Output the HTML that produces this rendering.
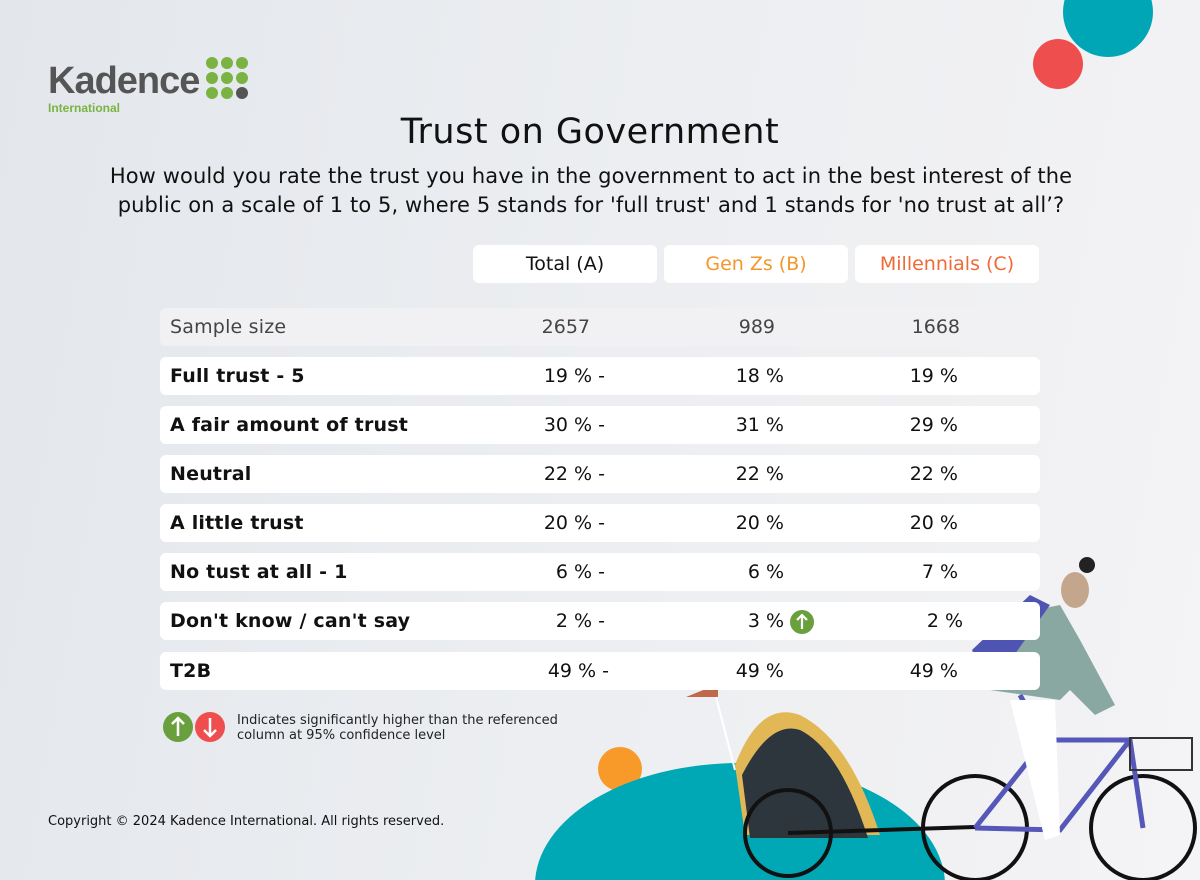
<!DOCTYPE html>
<html><head><meta charset="utf-8"><style>
*{margin:0;padding:0;box-sizing:border-box}
html,body{width:1200px;height:880px;overflow:hidden}
body{background:linear-gradient(100deg,#e3e7ec 0%,#eceef1 50%,#f4f3f5 100%);font-family:"DejaVu Sans","Liberation Sans",sans-serif;position:relative;color:#111}
.abs{position:absolute}
.h{top:245px;height:38px;width:184px;background:#fff;border-radius:6px;text-align:center;font-size:19px;line-height:38px}
.row{left:160px;width:880px;height:38px;background:#fff;border-radius:6px}
.lab{position:absolute;left:10px;top:0;line-height:38px;font-size:19px;font-weight:bold;letter-spacing:0.2px}
.v{position:absolute;top:0;line-height:38px;font-size:19px;white-space:nowrap}
</style></head><body>
<svg class="abs" style="left:0;top:0" width="1200" height="880">
<circle cx="1108" cy="12" r="45" fill="#00a6b5"/>
<circle cx="1058" cy="64" r="25" fill="#ef4e4e"/>
<circle cx="620" cy="769" r="22" fill="#f79a2a"/>
<ellipse cx="740" cy="885" rx="205" ry="122" fill="#00a8b6"/>
<g fill="#7ab342"><circle cx="212" cy="63" r="6"/><circle cx="227" cy="63" r="6"/><circle cx="242" cy="63" r="6"/><circle cx="212" cy="78" r="6"/><circle cx="227" cy="78" r="6"/><circle cx="242" cy="78" r="6"/><circle cx="212" cy="93" r="6"/><circle cx="227" cy="93" r="6"/></g><circle cx="242" cy="93" r="6" fill="#555"/>
<polygon points="686,697 718,684 718,697" fill="#c0694a"/>
<line x1="716" y1="697" x2="735" y2="770" stroke="#fff" stroke-width="2"/>
<path d="M735,765 Q760,700 800,715 Q850,740 880,835 L745,835 Z" fill="#e2b857"/>
<path d="M742,775 Q770,720 800,730 Q840,750 868,838 L750,838 Z" fill="#2d363d"/>
<circle cx="788" cy="833" r="43" fill="none" stroke="#111" stroke-width="4"/>
<line x1="788" y1="833" x2="975" y2="827" stroke="#111" stroke-width="4"/>
<g stroke="#111" stroke-width="4" fill="none"><circle cx="975" cy="828" r="52"/><circle cx="1143" cy="828" r="52"/></g>
<g stroke="#5558b8" stroke-width="5" fill="none"><path d="M975,828 L1045,740 L1130,740 L1143,828"/><path d="M1045,740 L1020,695"/><path d="M975,828 L1060,830 L1130,740"/></g>
<rect x="1130" y="738" width="62" height="32" fill="none" stroke="#333" stroke-width="2"/>
<polygon points="990,690 1010,615 1060,605 1080,640 1115,705 1095,715 1070,690 1060,700" fill="#8aa8a2"/>
<polygon points="1000,700 1055,700 1060,835 1045,840 1025,760 1010,700" fill="#fff"/>
<ellipse cx="1075" cy="590" rx="14" ry="18" fill="#c4a68d"/>
<circle cx="1087" cy="565" r="8" fill="#222"/>
<polygon points="972,650 1030,595 1050,605 1002,672 980,668" fill="#4e54b1"/>
</svg>
<div class="abs" style="left:48px;top:60px;font-family:'Liberation Sans',sans-serif;font-size:38px;color:#555;font-weight:bold;letter-spacing:-1px">Kadence</div>
<div class="abs" style="left:48px;top:101px;font-family:'Liberation Sans',sans-serif;font-size:12px;color:#7ab342;font-weight:bold">International</div>
<div class="abs" style="left:0;width:1180px;top:112px;text-align:center;font-size:35px;letter-spacing:0.5px">Trust on Government</div>
<div class="abs" style="left:0;width:1182px;top:162px;text-align:center;font-size:21px;line-height:29px;letter-spacing:0.1px;white-space:nowrap">How would you rate the trust you have in the government to act in the best interest of the<br>public on a scale of 1 to 5, where 5 stands for 'full trust' and 1 stands for 'no trust at all’?</div>
<div class="abs h" style="left:473px">Total (A)</div>
<div class="abs h" style="left:664px;color:#f5962a">Gen Zs (B)</div>
<div class="abs h" style="left:855px;color:#f06a36">Millennials (C)</div>

<div class="abs row" style="top:308px;background:#f1f1f3"><span class="lab" style="font-weight:normal;color:#444">Sample size</span><span class="v" style="right:450px;color:#444">2657</span><span class="v" style="right:265px;color:#444">989</span><span class="v" style="right:80px;color:#444">1668</span></div>
<div class="abs row" style="top:357px"><span class="lab">Full trust - 5</span><span class="v" style="right:435px">19 % -</span><span class="v" style="right:256px">18 %</span><span class="v" style="right:82px">19 %</span></div>
<div class="abs row" style="top:406px"><span class="lab">A fair amount of trust</span><span class="v" style="right:435px">30 % -</span><span class="v" style="right:256px">31 %</span><span class="v" style="right:82px">29 %</span></div>
<div class="abs row" style="top:455px"><span class="lab">Neutral</span><span class="v" style="right:435px">22 % -</span><span class="v" style="right:256px">22 %</span><span class="v" style="right:82px">22 %</span></div>
<div class="abs row" style="top:504px"><span class="lab">A little trust</span><span class="v" style="right:435px">20 % -</span><span class="v" style="right:256px">20 %</span><span class="v" style="right:82px">20 %</span></div>
<div class="abs row" style="top:553px"><span class="lab">No tust at all - 1</span><span class="v" style="right:435px">6 % -</span><span class="v" style="right:256px">6 %</span><span class="v" style="right:82px">7 %</span></div>
<div class="abs row" style="top:602px"><span class="lab">Don't know / can't say</span><span class="v" style="right:435px">2 % -</span><span class="v" style="right:256px">3 %</span><span class="v" style="right:77px">2 %</span></div>
<div class="abs row" style="top:652px"><span class="lab">T2B</span><span class="v" style="right:431px">49 % -</span><span class="v" style="right:256px">49 %</span><span class="v" style="right:82px">49 %</span></div>
<svg class="abs" style="left:0;top:0" width="1200" height="880">
<circle cx="802" cy="622" r="12" fill="#6a9f3d"/><path d="M802,629 V616 M797,620 L802,615 L807,620" stroke="#fff" stroke-width="2.2" fill="none"/>
<circle cx="178" cy="727" r="15" fill="#6a9f3d"/><path d="M178,736 V719 M172,724 L178,718 L184,724" stroke="#fff" stroke-width="2.5" fill="none"/>
<circle cx="210" cy="727" r="15" fill="#ef4e4e"/><path d="M210,718 V735 M204,730 L210,736 L216,730" stroke="#fff" stroke-width="2.5" fill="none"/>
</svg>
<div class="abs" style="left:237px;top:713px;font-size:13px;line-height:15px;color:#222;white-space:nowrap">Indicates significantly higher than the referenced<br>column at 95% confidence level</div>
<div class="abs" style="left:48px;top:814px;font-size:13px;color:#111;white-space:nowrap">Copyright © 2024 Kadence International. All rights reserved.</div>
</body></html>
